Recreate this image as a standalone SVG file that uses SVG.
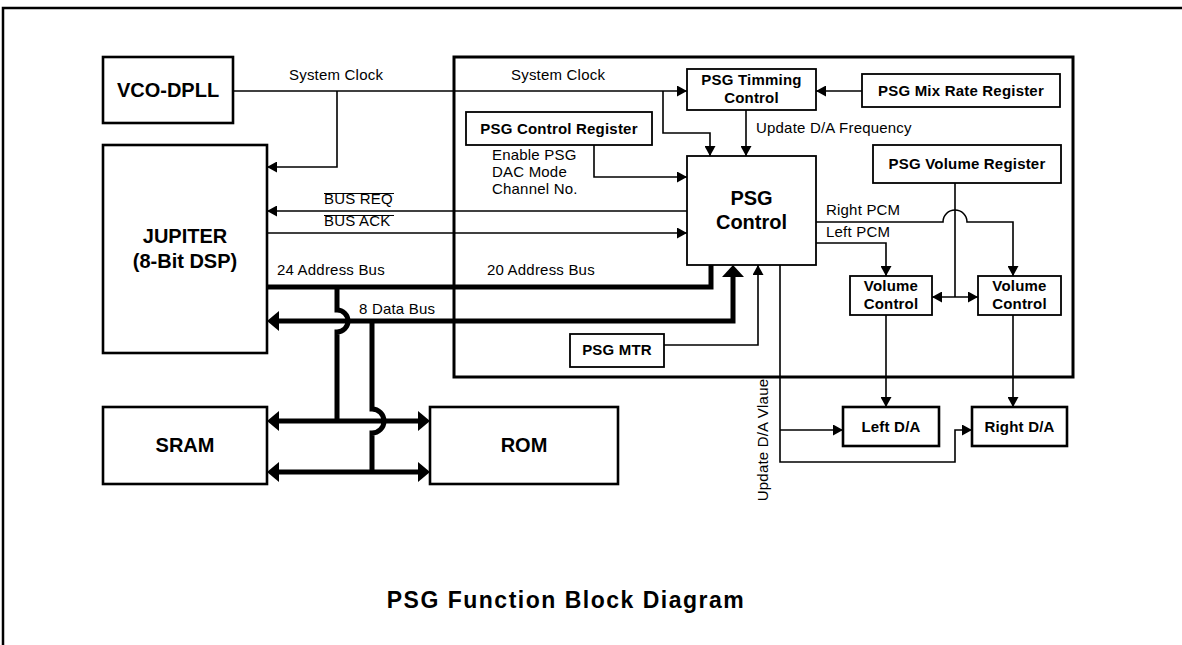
<svg xmlns="http://www.w3.org/2000/svg" width="1182" height="645" viewBox="0 0 1182 645">
<style>
.bx{fill:#fff;stroke:#000;stroke-width:1.8}
.bk{fill:#fff;stroke:#000;stroke-width:2.6}
.fr{fill:none;stroke:#000;stroke-width:3}
.c{fill:none;stroke:#000;stroke-width:1.6}
.bus{fill:none;stroke:#000;stroke-width:5}
.t{font-family:"Liberation Sans",Arial,sans-serif;font-size:15px;letter-spacing:0.2px;fill:#000}
.tb{font-family:"Liberation Sans",Arial,sans-serif;font-size:15px;font-weight:bold;letter-spacing:0.2px;fill:#000;text-anchor:middle}
.tl{font-family:"Liberation Sans",Arial,sans-serif;font-size:20px;font-weight:bold;fill:#000;text-anchor:middle}
</style>
<defs>
<marker id="a" viewBox="0 0 10 11" refX="10" refY="5.5" markerWidth="10" markerHeight="11" markerUnits="userSpaceOnUse" orient="auto-start-reverse"><path d="M0,0L10,5.5L0,11z"/></marker>
<marker id="b" viewBox="0 0 12 20" refX="7" refY="10" markerWidth="12" markerHeight="20" markerUnits="userSpaceOnUse" orient="auto-start-reverse"><path d="M0,0L12,10L0,20z"/></marker>
<marker id="bu" viewBox="0 0 12 22" refX="7" refY="11" markerWidth="12" markerHeight="22" markerUnits="userSpaceOnUse" orient="auto-start-reverse"><path d="M0,0L12,11L0,22z"/></marker>
</defs>
<rect width="1182" height="645" fill="#fff"/>
<g id="page-frame">
<path d="M3,645V8H1182" fill="none" stroke="#000" stroke-width="2.5"/>
</g>
<g id="psg-frame"><rect class="fr" x="454" y="57" width="619" height="320"/></g>

<g id="connectors">
<path class="c" d="M233,91H687" marker-end="url(#a)"/>
<path class="c" d="M337,91V167H267" marker-end="url(#a)"/>
<path class="c" d="M663,91V133H710V156" marker-end="url(#a)"/>
<path class="c" d="M746,110V156" marker-end="url(#a)"/>
<path class="c" d="M862,91H816" marker-end="url(#a)"/>
<path class="c" d="M594,145V177H687" marker-end="url(#a)"/>
<path class="c" d="M687,211H267" marker-end="url(#a)"/>
<path class="c" d="M267,233H687" marker-end="url(#a)"/>
<path class="c" d="M664,345H758V265" marker-end="url(#a)"/>
<path class="c" d="M780,265V462H955V430H972" marker-end="url(#a)"/>
<path class="c" d="M780,430H843" marker-end="url(#a)"/>
<path class="c" d="M816,222H943A12,12 0 0 1 967,222H1013V276" marker-end="url(#a)"/>
<path class="c" d="M816,243H886V276" marker-end="url(#a)"/>
<path class="c" d="M955,183V297"/>
<path class="c" d="M932,297H978" marker-start="url(#a)" marker-end="url(#a)"/>
<path class="c" d="M886,315V407" marker-end="url(#a)"/>
<path class="c" d="M1013,315V407" marker-end="url(#a)"/>
<path class="bus" d="M267,287H711V265"/>
<path class="bus" d="M337,287V310A11,11 0 0 1 337,332V421"/>
<path class="bus" d="M733,270V321H272" marker-start="url(#bu)" marker-end="url(#b)"/>
<path class="bus" d="M372,321V409A12,12 0 0 1 372,433V472"/>
<path class="bus" d="M272,421H425" marker-start="url(#b)" marker-end="url(#b)"/>
<path class="bus" d="M272,472H425" marker-start="url(#b)" marker-end="url(#b)"/>
</g>

<g id="labels">
<text class="t" x="289" y="80">System Clock</text>
<text class="t" x="511" y="80">System Clock</text>
<text class="t" x="324" y="204">BUS REQ</text>
<line x1="324" y1="193.5" x2="394" y2="193.5" stroke="#000" stroke-width="1"/>
<text class="t" x="324" y="226">BUS ACK</text>
<line x1="324" y1="215.5" x2="394" y2="215.5" stroke="#000" stroke-width="1"/>
<text class="t" x="277" y="275">24 Address Bus</text>
<text class="t" x="487" y="275">20 Address Bus</text>
<text class="t" x="359" y="314">8 Data Bus</text>
<text class="t" x="492" y="160">Enable PSG</text>
<text class="t" x="492" y="177">DAC Mode</text>
<text class="t" x="492" y="194">Channel No.</text>
<text class="t" x="756" y="133">Update D/A Frequency</text>
<text class="t" x="826" y="215">Right PCM</text>
<text class="t" x="826" y="237">Left PCM</text>
<text class="t" x="0" y="0" text-anchor="middle" transform="translate(768,440) rotate(-90)">Update D/A Vlaue</text>
<text class="tl" x="566" y="608" style="font-size:23px;letter-spacing:1.5px">PSG Function Block Diagram</text>
</g>

<g id="vco"><rect class="bk" x="103" y="57" width="130" height="66"/><text class="tl" x="168" y="97">VCO-DPLL</text></g>
<g id="jupiter"><rect class="bk" x="103" y="145" width="164" height="208"/><text class="tl" x="185" y="243">JUPITER</text><text class="tl" x="185" y="268">(8-Bit DSP)</text></g>
<g id="sram"><rect class="bk" x="103" y="407" width="164" height="77"/><text class="tl" x="185" y="452">SRAM</text></g>
<g id="rom"><rect class="bk" x="430" y="407" width="188" height="77"/><text class="tl" x="524" y="452">ROM</text></g>
<g id="psg-timing"><rect class="bx" x="687" y="69" width="129" height="41"/><text class="tb" x="751.5" y="85">PSG Timming</text><text class="tb" x="751.5" y="103">Control</text></g>
<g id="psg-mix-rate"><rect class="bx" x="862" y="74" width="198" height="33"/><text class="tb" x="961" y="96">PSG Mix Rate Register</text></g>
<g id="psg-control-reg"><rect class="bx" x="466" y="112" width="186" height="33"/><text class="tb" x="559" y="134">PSG Control Register</text></g>
<g id="psg-control"><rect class="bx" x="687" y="156" width="129" height="109"/><text class="tl" x="751.5" y="205">PSG</text><text class="tl" x="751.5" y="229">Control</text></g>
<g id="psg-volume-reg"><rect class="bx" x="873" y="145" width="188" height="38"/><text class="tb" x="967" y="169">PSG Volume Register</text></g>
<g id="vol-left"><rect class="bx" x="850" y="276" width="82" height="39"/><text class="tb" x="891" y="291">Volume</text><text class="tb" x="891" y="309">Control</text></g>
<g id="vol-right"><rect class="bx" x="978" y="276" width="83" height="39"/><text class="tb" x="1019.5" y="291">Volume</text><text class="tb" x="1019.5" y="309">Control</text></g>
<g id="psg-mtr"><rect class="bx" x="570" y="334" width="94" height="33"/><text class="tb" x="617" y="355">PSG MTR</text></g>
<g id="left-da"><rect class="bk" x="843" y="407" width="96" height="39"/><text class="tb" x="891" y="432">Left D/A</text></g>
<g id="right-da"><rect class="bk" x="972" y="407" width="95" height="39"/><text class="tb" x="1019.5" y="432">Right D/A</text></g>
</svg>
